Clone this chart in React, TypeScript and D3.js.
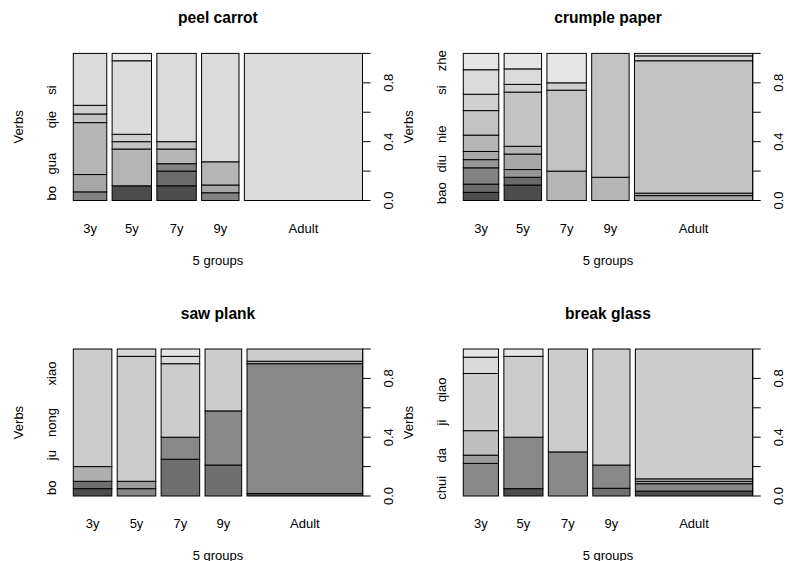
import React from "react";
import * as d3 from "d3";

// ---- data ----
const groups = ["3y", "5y", "7y", "9y", "Adult"];

const peelTitle = "peel carrot";
const peelVerbs = ["bo", "", "gua", "", "", "qie", "", "si", "", ""];
const peelCounts = [
  [0, 0, 1, 0, 2, 6, 1, 1, 6, 0],
  [2, 0, 0, 0, 0, 5, 1, 1, 10, 1],
  [2, 2, 1, 0, 0, 2, 1, 0, 12, 0],
  [0, 0, 1, 0, 1, 3, 0, 0, 14, 0],
  [0, 0, 0, 0, 0, 0, 0, 0, 60, 0],
];

const crumpleTitle = "crumple paper";
const crumpleVerbs = ["bao", "", "diu", "", "nie", "", "", "si", "", "zhe"];
const crumpleCounts = [
  [1, 1, 2, 1, 1, 2, 3, 2, 3, 2],
  [2, 1, 0, 1, 2, 1, 7, 1, 2, 2],
  [0, 0, 0, 0, 0, 4, 11, 1, 0, 4],
  [0, 0, 0, 0, 0, 3, 16, 0, 0, 0],
  [0, 0, 0, 0, 2, 1, 54, 2, 1, 0],
];

const sawTitle = "saw plank";
const sawVerbs = ["bo", "", "ju", "", "nong", "", "", "xiao", ""];
const sawCounts = [
  [1, 1, 0, 0, 2, 0, 16, 0, 0],
  [0, 0, 1, 1, 0, 0, 17, 1, 0],
  [0, 5, 3, 0, 0, 0, 10, 1, 1],
  [0, 4, 7, 0, 0, 0, 8, 0, 0],
  [1, 0, 53, 0, 1, 0, 5, 0, 0],
];

const breakTitle = "break glass";
const breakVerbs = ["chui", "", "da", "", "ji", "", "qiao", "", ""];
const breakCounts = [
  [0, 0, 4, 1, 0, 3, 7, 2, 1],
  [1, 0, 7, 0, 0, 0, 11, 0, 1],
  [0, 0, 6, 0, 0, 0, 14, 0, 0],
  [0, 1, 3, 0, 0, 0, 15, 0, 0],
  [2, 0, 3, 1, 0, 1, 53, 0, 0],
];

const propTicks = [0, 0.2, 0.4, 0.6, 0.8, 1];
const propTickLabels = ["0.0", "", "0.4", "", "0.8", ""];

const xTitle = "5 groups";
const yTitle = "Verbs";

// ---- helpers ----
function grayColors(n: number): string[] {
  const s = Math.pow(0.3, 2.2);
  const e = Math.pow(0.9, 2.2);
  return d3.range(n).map((i) => {
    const v = Math.pow(s + ((e - s) * i) / (n - 1), 1 / 2.2);
    const c = Math.round(v * 255);
    return `rgb(${c},${c},${c})`;
  });
}

const FONT = "'Liberation Sans', Arial, Helvetica, sans-serif";

type PanelProps = {
  title: string;
  verbs: string[];
  counts: number[][];
  left: number;
  right: number;
  top: number;
  bottom: number;
};

function Panel({ title, verbs, counts, left, right, top, bottom }: PanelProps) {
  const nx = groups.length;
  const ny = verbs.length;
  const off = 0.02;
  const totals = counts.map((r) => d3.sum(r));
  const grand = d3.sum(totals);
  const xat = [0];
  totals.forEach((t, i) => xat.push(xat[i] + t / grand + off));
  const x = d3.scaleLinear().domain([0, 1 + off * (nx - 1)]).range([left, right]);
  const y = d3.scaleLinear().domain([0, 1]).range([bottom, top]);
  const cols = grayColors(ny);
  const cx = (left + right) / 2;
  const cy = (top + bottom) / 2;

  const rects: React.ReactNode[] = [];
  counts.forEach((row, gi) => {
    const x0 = x(xat[gi]);
    const x1 = x(xat[gi + 1] - off);
    let cum = 0;
    row.forEach((c, li) => {
      const p0 = cum / totals[gi];
      cum += c;
      const p1 = cum / totals[gi];
      rects.push(
        <rect
          key={`${gi}-${li}`}
          x={x0}
          y={y(p1)}
          width={x1 - x0}
          height={y(p0) - y(p1)}
          fill={cols[li]}
          stroke="#000"
          strokeWidth={1}
        />
      );
    });
  });

  return (
    <g fontFamily={FONT}>
      <text x={cx} y={top - 36} textAnchor="middle" dominantBaseline="central" fontWeight="bold" fontSize={15.6} fill="#000">
        {title}
      </text>
      {rects}
      {groups.map((g, gi) => (
        <text
          key={g}
          x={(x(xat[gi]) + x(xat[gi + 1] - off)) / 2}
          y={bottom + 27.5}
          textAnchor="middle"
          dominantBaseline="central"
          fontSize={13}
          fill="#000"
        >
          {g}
        </text>
      ))}
      <text x={cx} y={bottom + 59.5} textAnchor="middle" dominantBaseline="central" fontSize={13} fill="#000">
        {xTitle}
      </text>
      <text
        transform={`translate(${left - 55},${cy}) rotate(-90)`}
        textAnchor="middle"
        dominantBaseline="central"
        fontSize={13}
        fill="#000"
      >
        {yTitle}
      </text>
      {verbs.map((v, li) =>
        v ? (
          <text
            key={li}
            transform={`translate(${left - 21.6},${y((2 * li + 1) / (2 * ny))}) rotate(-90)`}
            textAnchor="middle"
            dominantBaseline="central"
            fontSize={13}
            fill="#000"
          >
            {v}
          </text>
        ) : null
      )}
      <line x1={right} x2={right} y1={y(0)} y2={y(1)} stroke="#000" strokeWidth={1} />
      {propTicks.map((t, i) => (
        <g key={t}>
          <line x1={right} x2={right + 8} y1={y(t)} y2={y(t)} stroke="#000" strokeWidth={1} />
          {propTickLabels[i] ? (
            <text
              transform={`translate(${right + 26},${y(t)}) rotate(-90)`}
              textAnchor="middle"
              dominantBaseline="central"
              fontSize={13}
              fill="#000"
            >
              {propTickLabels[i]}
            </text>
          ) : null}
        </g>
      ))}
    </g>
  );
}

export default function App() {
  return (
    <svg width={787} height={561} style={{ position: "absolute", left: 0, top: 0, background: "#fff" }}>
      <rect x={0} y={0} width={787} height={561} fill="#fff" />
      <Panel title={peelTitle} verbs={peelVerbs} counts={peelCounts} left={73.3} right={362.5} top={53.4} bottom={200.5} />
      <Panel title={crumpleTitle} verbs={crumpleVerbs} counts={crumpleCounts} left={463.3} right={752.7} top={53.4} bottom={200.5} />
      <Panel title={sawTitle} verbs={sawVerbs} counts={sawCounts} left={73.3} right={362.7} top={349} bottom={496} />
      <Panel title={breakTitle} verbs={breakVerbs} counts={breakCounts} left={463.3} right={752.7} top={349} bottom={496} />
    </svg>
  );
}
